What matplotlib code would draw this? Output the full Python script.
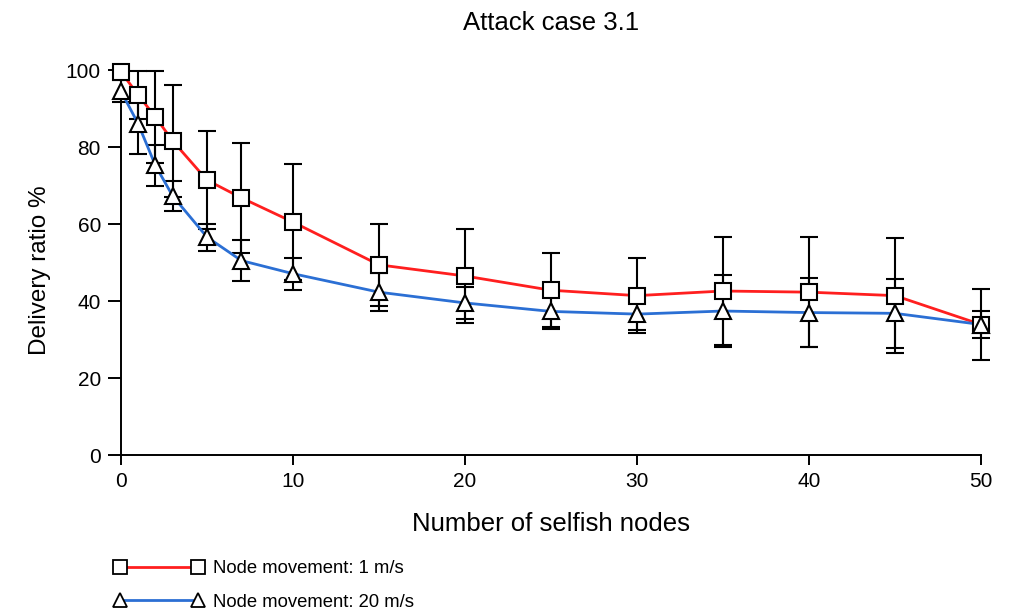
import numpy as np
import matplotlib
matplotlib.use("Agg")
import matplotlib.pyplot as plt

plt.rcParams['font.family'] = ['Liberation Sans', 'DejaVu Sans']

# Data
selfish_nodes = [0, 1, 2, 3, 5, 7, 10, 15, 20, 25, 30, 35, 40, 45, 50]
ratio_1ms = [99.5, 93.5, 87.8, 81.6, 71.4, 66.8, 60.5, 49.4, 46.5, 42.8, 41.4, 42.6, 42.3, 41.4, 33.9]
err_1ms = [1.0, 6.3, 12.0, 14.5, 12.8, 14.2, 15.1, 10.6, 12.2, 9.6, 9.8, 14.0, 14.3, 15.0, 9.2]
ratio_20ms = [94.5, 86.0, 75.2, 67.3, 56.6, 50.5, 47.1, 42.3, 39.5, 37.3, 36.6, 37.4, 37.0, 36.8, 33.9]
err_20ms = [2.8, 7.8, 5.3, 3.9, 3.5, 5.4, 4.2, 5.0, 4.2, 4.5, 4.1, 9.4, 9.0, 9.0, 3.4]

x_ticks = [0, 10, 20, 30, 40, 50]
y_ticks = [0, 20, 40, 60, 80, 100]

fig = plt.figure(figsize=(10.11, 6.12), dpi=100)
ax = fig.add_axes([0.1197, 0.2565, 0.8506, 0.6291])

red = '#ff1f1f'
blue = '#2b6fd4'

# error bars first (black)
ax.errorbar(selfish_nodes, ratio_1ms, yerr=err_1ms, fmt='none', ecolor='black',
            elinewidth=1.5, capsize=6.5, capthick=1.5, clip_on=False, zorder=2)
ax.errorbar(selfish_nodes, ratio_20ms, yerr=err_20ms, fmt='none', ecolor='black',
            elinewidth=1.5, capsize=6.5, capthick=1.5, clip_on=False, zorder=2)

# lines
ax.plot(selfish_nodes, ratio_1ms, color=red, lw=2.0, zorder=3, clip_on=False)
ax.plot(selfish_nodes, ratio_20ms, color=blue, lw=2.0, zorder=3, clip_on=False)

# markers
ax.plot(selfish_nodes, ratio_1ms, ls='none', marker='s', ms=11, mfc='white',
        mec='black', mew=1.5, zorder=4, clip_on=False)
ax.plot(selfish_nodes, ratio_20ms, ls='none', marker='^', ms=12, mfc='white',
        mec='black', mew=1.5, zorder=5, clip_on=False)

ax.set_xlim(0, 50)
ax.set_ylim(0, 100)
ax.set_xticks(x_ticks)
ax.set_yticks(y_ticks)
ax.spines['top'].set_visible(False)
ax.spines['right'].set_visible(False)
ax.spines['left'].set_linewidth(1.4)
ax.spines['bottom'].set_linewidth(1.4)
ax.tick_params(axis='y', length=9.5, width=1.4, labelsize=15, pad=5)
ax.tick_params(axis='x', length=7, width=1.4, labelsize=15, pad=5)

ax.set_xlabel('Number of selfish nodes', fontsize=18.5, labelpad=15)
ax.set_ylabel('Delivery ratio %', fontsize=17.5)
ax.yaxis.set_label_coords(-0.081, 0.48)
fig.text(0.545, 0.962, 'Attack case 3.1', ha='center', va='center', fontsize=18.5)

# legend at bottom left
h1, = ax.plot([], [], color=red, lw=2.0, marker='s', ms=10, mfc='white', mec='black', mew=1.3)
h2, = ax.plot([], [], color=blue, lw=2.0, marker='^', ms=10, mfc='white', mec='black', mew=1.3)
fig.legend([h1, h2], ['Node movement: 1 m/s', 'Node movement: 20 m/s'],
           loc='lower left', bbox_to_anchor=(0.097, -0.025), frameon=False,
           numpoints=2, handlelength=4.8, fontsize=13.3, labelspacing=0.9,
           handletextpad=0.5, borderpad=0.4)

fig.savefig('out.png', dpi=100)
